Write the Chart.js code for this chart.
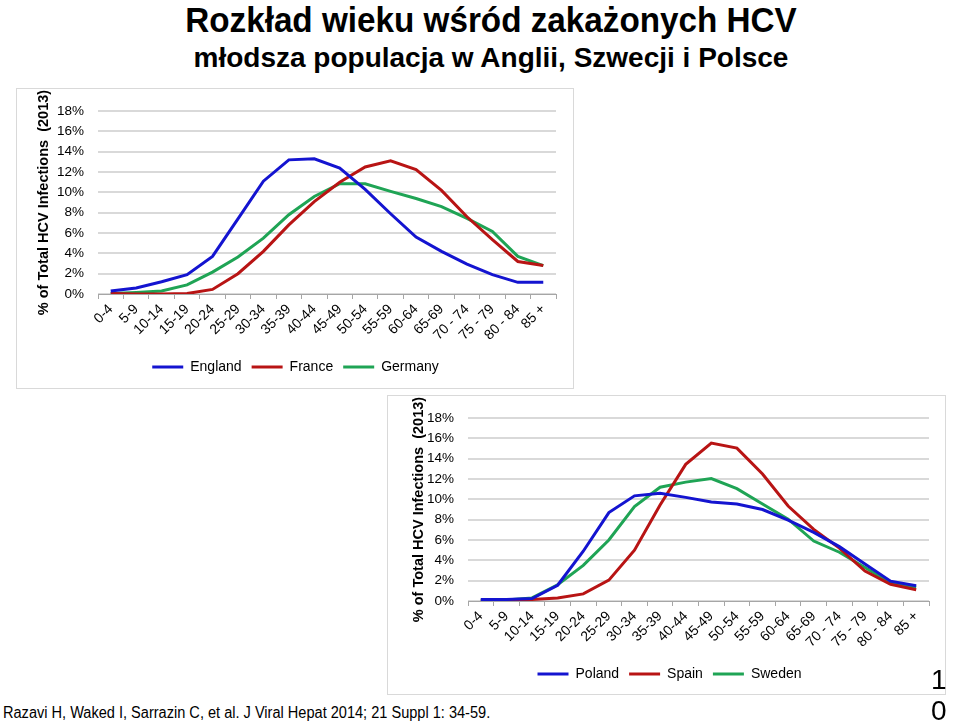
<!DOCTYPE html>
<html>
<head>
<meta charset="utf-8">
<script src="https://cdn.jsdelivr.net/npm/chart.js@4"></script>
<style>
	body { margin: 0; width: 960px; height: 727px; background: #fff; position: relative; overflow: hidden; }
	.title { position: absolute; left: 0; width: 982px; text-align: center; font-family: 'Liberation Sans', Arial, sans-serif; font-weight: bold; color: #000; white-space: nowrap; }
	.panel { position: absolute; border: 1px solid #d9d9d9; background: #fff; }
	.panel canvas { display: block; }
	#note { position: absolute; left: 3px; top: 704px; font-family: 'Liberation Sans', Arial, sans-serif; font-size: 16px; color: #000; white-space: nowrap; transform: scaleX(0.91); transform-origin: left top; }
	#page { position: absolute; left: 931px; top: 664px; font-family: 'Liberation Sans', sans-serif; font-size: 28px; line-height: 31px; color: #000; }
</style>
</head>
<body>
<div class="title" style="top: 0px; font-size: 35px; transform: scaleX(0.95);">Rozkład wieku wśród zakażonych HCV</div>
<div class="title" style="top: 42px; font-size: 28px;">młodsza populacja w Anglii, Szwecji i Polsce</div>

<div class="panel" style="left: 16px; top: 88px; width: 556px; height: 299px;">
	<canvas id="chart-west" width="556" height="299"></canvas>
</div>
<div class="panel" style="left: 387px; top: 395px; width: 557px; height: 298px;">
	<canvas id="chart-east" width="557" height="298"></canvas>
</div>

<div id="note">Razavi H, Waked I, Sarrazin C, et al. J Viral Hepat 2014; 21 Suppl 1: 34-59.</div>
<div id="page">1<br>0</div>

<script>
const ageGroups = ['0-4', '5-9', '10-14', '15-19', '20-24', '25-29', '30-34', '35-39', '40-44',
	'45-49', '50-54', '55-59', '60-64', '65-69', '70 - 74', '75 - 79', '80 - 84', '85 +'];

// % of total HCV infections (2013)
const england = [0.3, 0.6, 1.2, 1.9, 3.7, 7.4, 11.1, 13.2, 13.3, 12.4, 10.3, 7.9, 5.6, 4.2, 2.95, 1.9, 1.15, 1.15];
const france = [0.05, 0.0, 0.0, 0.05, 0.45, 2.0, 4.2, 6.8, 9.1, 11.0, 12.5, 13.1, 12.25, 10.2, 7.6, 5.35, 3.2, 2.8];
const germany = [0.05, 0.15, 0.3, 0.9, 2.15, 3.65, 5.5, 7.8, 9.6, 10.85, 10.85, 10.1, 9.4, 8.6, 7.45, 6.15, 3.7, 2.8];

const poland = [0.15, 0.15, 0.25, 1.55, 4.9, 8.7, 10.35, 10.6, 10.2, 9.75, 9.55, 9.0, 7.95, 6.75, 5.35, 3.65, 1.95, 1.5];
const spain = [0.05, 0.05, 0.15, 0.3, 0.7, 2.05, 5.0, 9.45, 13.45, 15.55, 15.05, 12.5, 9.35, 7.05, 5.2, 2.95, 1.65, 1.1];
const sweden = [0.1, 0.1, 0.3, 1.6, 3.5, 6.0, 9.3, 11.2, 11.7, 12.05, 11.05, 9.55, 8.05, 5.9, 4.8, 3.3, 1.8, 1.35];

const yTicks = [0, 2, 4, 6, 8, 10, 12, 14, 16, 18];

const blue = '#1414d0';
const red = '#b81414';
const green = '#1fa455';

Chart.defaults.font.family = "'Liberation Sans', Arial, sans-serif";
Chart.defaults.color = '#000';

function lineSet(label, data, color) {
	return {
		label: label,
		data: data,
		borderColor: color,
		backgroundColor: color,
		borderWidth: 3,
		pointRadius: 0,
		tension: 0,
		fill: false,
	};
}

function makeChart(id, sets, box) {
	const options = {
		animation: false,
		responsive: false,
		layout: {
			padding: { left: box.padLeft, right: box.padRight, top: box.padTop, bottom: box.padBottom },
		},
		plugins: {
			legend: {
				position: 'bottom',
				labels: {
					usePointStyle: true,
					pointStyle: 'line',
					pointStyleWidth: 31,
					padding: 10,
					font: { size: 14 },
				},
			},
			tooltip: { enabled: false },
		},
		scales: {
			x: {
				type: 'category',
				offset: true,
				grid: {
					offset: true,
					drawOnChartArea: false,
					tickLength: 5,
					color: '#a6a6a6',
				},
				border: { color: '#a6a6a6' },
				ticks: {
					autoSkip: false,
					minRotation: 45,
					maxRotation: 45,
					padding: 2,
					font: { size: 14 },
				},
				afterFit: (s) => { s.height = 56; },
			},
			y: {
				min: 0,
				max: 18,
				afterBuildTicks: (s) => { s.ticks = yTicks.map((v) => ({ value: v })); },
				grid: {
					color: '#d9d9d9',
					lineWidth: 2,
					drawTicks: false,
				},
				border: { display: false },
				ticks: {
					padding: 14,
					font: { size: 13.5 },
					callback: (val) => val + '%',
				},
				title: {
					display: true,
					text: '% of Total HCV Infections  (2013)',
					font: { size: 14.5, weight: 'bold' },
					padding: 0,
				},
				afterFit: (s) => { s.width = box.yWidth; },
			},
		},
	};

	return new Chart(document.getElementById(id), {
		type: 'line',
		data: { labels: ageGroups, datasets: sets },
		options: options,
	});
}

makeChart('chart-west', [
	lineSet('England', england, blue),
	lineSet('France', france, red),
	lineSet('Germany', germany, green),
], { padLeft: 18, yWidth: 63, padRight: 17, padTop: 18, padBottom: 4 });

makeChart('chart-east', [
	lineSet('Poland', poland, blue),
	lineSet('Spain', spain, red),
	lineSet('Sweden', sweden, green),
], { padLeft: 22, yWidth: 58, padRight: 16, padTop: 17, padBottom: 3 });
</script>
</body>
</html>
